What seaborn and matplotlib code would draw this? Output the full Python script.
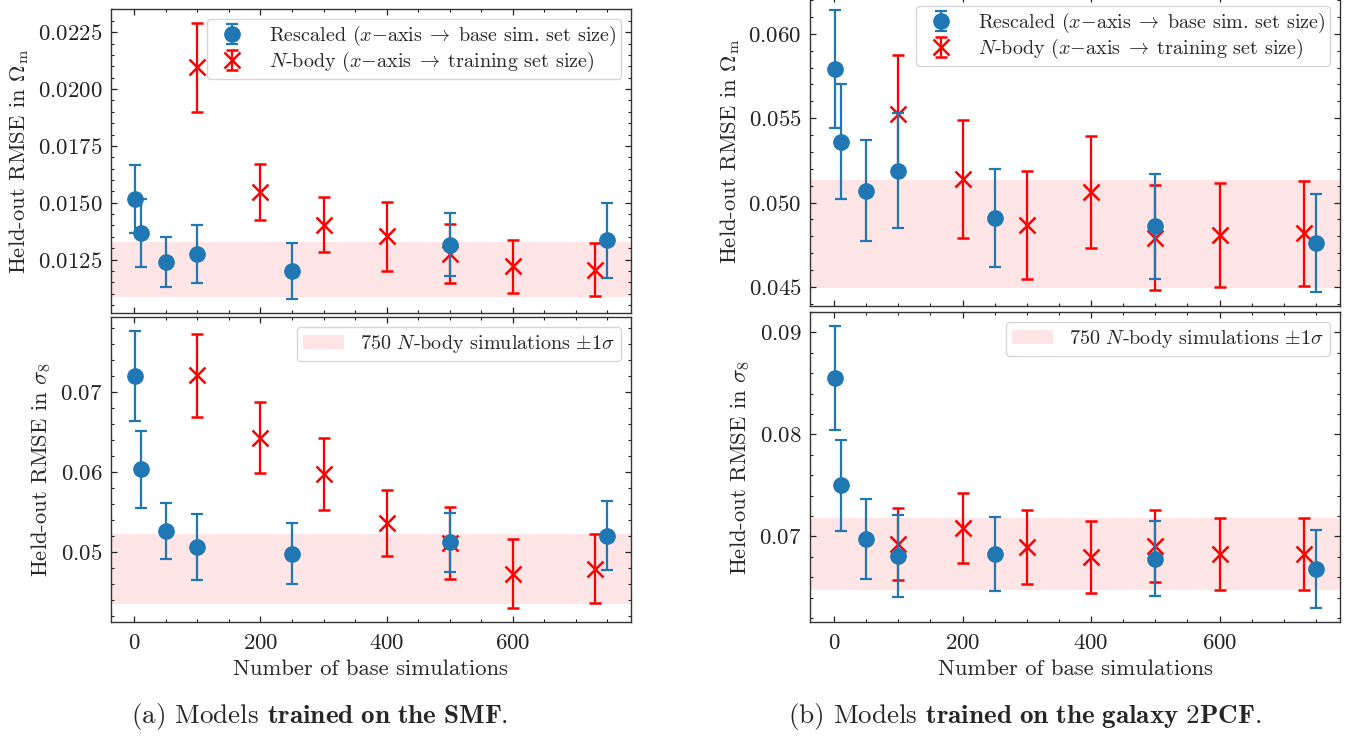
import matplotlib
matplotlib.use("Agg")
import matplotlib.pyplot as plt
from matplotlib.ticker import AutoMinorLocator, MultipleLocator
import seaborn as sns

# ---------------- data ----------------
x_rescaled = [1, 10, 50, 100, 250, 500, 750]
x_nbody = [100, 200, 300, 400, 500, 600, 731]

# (a) SMF, Omega_m
smf_om_resc = [0.01518, 0.01368, 0.01240, 0.01273, 0.01199, 0.01316, 0.01335]
smf_om_resc_err = [0.00150, 0.00150, 0.00110, 0.00127, 0.00123, 0.00140, 0.00166]
smf_om_nbody = [0.02096, 0.01548, 0.01404, 0.01352, 0.01276, 0.01221, 0.01206]
smf_om_nbody_err = [0.00195, 0.00123, 0.00120, 0.00150, 0.00130, 0.00116, 0.00115]
smf_om_band = [0.01086, 0.01329]

# (a) SMF, sigma_8
smf_s8_resc = [0.07199, 0.06037, 0.05261, 0.05062, 0.04979, 0.05124, 0.05203]
smf_s8_resc_err = [0.0056, 0.0048, 0.0035, 0.0041, 0.0038, 0.0037, 0.0043]
smf_s8_nbody = [0.07203, 0.06427, 0.05975, 0.05369, 0.05112, 0.04734, 0.04793]
smf_s8_nbody_err = [0.0052, 0.0044, 0.0045, 0.0041, 0.0045, 0.0043, 0.0043]
smf_s8_band = [0.04357, 0.05228]

# (b) 2PCF, Omega_m
pcf_om_resc = [0.05791, 0.05360, 0.05069, 0.05189, 0.04906, 0.04858, 0.04760]
pcf_om_resc_err = [0.0035, 0.0034, 0.0030, 0.0034, 0.0029, 0.0031, 0.0029]
pcf_om_nbody = [0.05526, 0.05140, 0.04866, 0.05063, 0.04791, 0.04807, 0.04817]
pcf_om_nbody_err = [0.0035, 0.0035, 0.0032, 0.0033, 0.0031, 0.0031, 0.0031]
pcf_om_band = [0.04494, 0.05136]

# (b) 2PCF, sigma_8
pcf_s8_resc = [0.08552, 0.07500, 0.06974, 0.06807, 0.06827, 0.06784, 0.06680]
pcf_s8_resc_err = [0.0051, 0.0045, 0.0039, 0.0040, 0.0036, 0.0037, 0.0038]
pcf_s8_nbody = [0.06928, 0.07082, 0.06899, 0.06797, 0.06905, 0.06830, 0.06830]
pcf_s8_nbody_err = [0.0035, 0.0034, 0.0036, 0.0035, 0.0035, 0.0035, 0.0035]
pcf_s8_band = [0.06471, 0.07186]

# major y-tick steps per panel
ystep_a_top = 0.0025
ystep_a_bot = 0.01
ystep_b_top = 0.005
ystep_b_bot = 0.01

label_resc = r"Rescaled ($x{-}$axis$\;\rightarrow\;$base sim. set size)"
label_nbody = r"$N$-body ($x{-}$axis$\;\rightarrow\;$training set size)"
label_band = r"750 $N$-body simulations $\pm1\sigma$"
ylabel_om = r"Held-out RMSE in $\Omega_{\rm m}$"
ylabel_s8 = r"Held-out RMSE in $\sigma_8$"
xlabel = "Number of base simulations"
caption_a = r"(a) Models $\mathbf{trained\ on\ the\ SMF.}$"
caption_b = r"(b) Models $\mathbf{trained\ on\ the\ galaxy\ 2PCF}$."

# ---------------- style ----------------
sns.set_theme(style="ticks")
plt.rcParams.update({
    "font.family": ["cmr10"],
    "mathtext.fontset": "cm",
    "axes.formatter.use_mathtext": True,
    "axes.unicode_minus": False,
    "axes.edgecolor": "#333333",
    "axes.linewidth": 1.0,
    "xtick.direction": "in",
    "ytick.direction": "in",
    "xtick.top": True,
    "ytick.right": True,
    "xtick.major.size": 4.5,
    "ytick.major.size": 4.5,
    "xtick.minor.size": 2.3,
    "ytick.minor.size": 2.3,
    "xtick.major.width": 0.9,
    "ytick.major.width": 0.9,
    "xtick.minor.width": 0.8,
    "ytick.minor.width": 0.8,
    "xtick.major.pad": 8,
    "ytick.major.pad": 6,
    "xtick.color": "#222222",
    "ytick.color": "#222222",
    "xtick.labelsize": 16.5,
    "ytick.labelsize": 16.5,
    "axes.labelsize": 16.3,
    "axes.labelpad": 5,
    "legend.fontsize": 14.5,
})

BLUE = "#1f77b4"
RED = "#ff0000"

fig = plt.figure(figsize=(13.63, 7.42), dpi=100)

W, H = 1363.0, 742.0
def pos(l, r, t, b):
    return [l / W, 1 - b / H, (r - l) / W, (b - t) / H]

axes = {
    "a_top": fig.add_axes(pos(110.7, 631, 9, 313)),
    "a_bot": fig.add_axes(pos(110.7, 631, 317, 622)),
    "b_top": fig.add_axes(pos(810, 1340, -4, 306)),
    "b_bot": fig.add_axes(pos(810, 1340, 312, 622)),
}

panels = [
    ("a_top", smf_om_resc, smf_om_resc_err, smf_om_nbody, smf_om_nbody_err, smf_om_band, ylabel_om, ystep_a_top),
    ("a_bot", smf_s8_resc, smf_s8_resc_err, smf_s8_nbody, smf_s8_nbody_err, smf_s8_band, ylabel_s8, ystep_a_bot),
    ("b_top", pcf_om_resc, pcf_om_resc_err, pcf_om_nbody, pcf_om_nbody_err, pcf_om_band, ylabel_om, ystep_b_top),
    ("b_bot", pcf_s8_resc, pcf_s8_resc_err, pcf_s8_nbody, pcf_s8_nbody_err, pcf_s8_band, ylabel_s8, ystep_b_bot),
]

for key, yr, er, yn, en, band, ylab, ystep in panels:
    ax = axes[key]
    span = ax.axhspan(band[0], band[1], color=RED, alpha=0.1, lw=0, zorder=0,
                      label=label_band)
    hn = ax.errorbar(x_nbody, yn, yerr=en, fmt="x", color=RED, ms=11, mew=1.8,
                     elinewidth=1.6, capsize=4.5, capthick=1.6, label=label_nbody, zorder=2)
    hr = ax.errorbar(x_rescaled, yr, yerr=er, fmt="o", color=BLUE, ms=11,
                     elinewidth=1.6, capsize=4.5, capthick=1.6, label=label_resc, zorder=3)
    ax.set_ylabel(ylab)
    ax.yaxis.set_major_locator(MultipleLocator(ystep))
    ax.xaxis.set_minor_locator(AutoMinorLocator(4))
    ax.yaxis.set_minor_locator(AutoMinorLocator(5))
    ax.set_xticks([0, 200, 400, 600])
    ax.set_xlim(-37.5, 787.5)
    if key.endswith("top"):
        ax.tick_params(labelbottom=False)
        ax.legend(handles=[hr, hn], loc="upper right", frameon=True,
                  fancybox=True, framealpha=0.8, edgecolor="#cccccc",
                  borderaxespad=0.5, borderpad=0.25, labelspacing=0.1)
    else:
        ax.set_xlabel(xlabel)
        ax.legend(handles=[span], loc="upper right", frameon=True,
                  fancybox=True, framealpha=0.8, edgecolor="#cccccc",
                  borderaxespad=0.5, borderpad=0.3)

fig.text(320 / W, 1 - 717 / H, caption_a, ha="center", va="center", fontsize=19.5)
fig.text(1025 / W, 1 - 717 / H, caption_b, ha="center", va="center", fontsize=19.5)

fig.savefig("out.png", dpi=100)
